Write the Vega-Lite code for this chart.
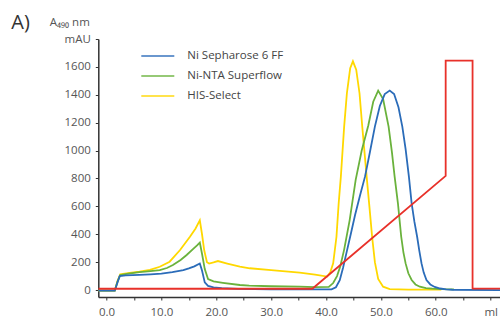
{
  "$schema": "https://vega.github.io/schema/vega-lite/v6.json",
  "width": 401.7,
  "height": 258,
  "autosize": {"type": "none"},
  "padding": {"left": 98.3, "top": 39, "right": 0, "bottom": 22},
  "background": "white",
  "title": {"text": "A)", "anchor": "start", "frame": "group", "fontSize": 20, "fontWeight": "normal", "color": "#333333", "font": "Open Sans", "dx": -87, "dy": 33, "offset": 0, "baseline": "alphabetic"},
  "config": {
    "view": {"stroke": null},
    "font": "Open Sans"
  },
  "datasets": {
    "curves": [
      {"s": "HIS-Select", "ml": -1.5, "mAU": -5}, {"s": "HIS-Select", "ml": 1.5, "mAU": -5}, {"s": "HIS-Select", "ml": 2.0, "mAU": 65}, {"s": "HIS-Select", "ml": 2.5, "mAU": 112}, {"s": "HIS-Select", "ml": 4.2, "mAU": 122}, {"s": "HIS-Select", "ml": 6, "mAU": 132}, {"s": "HIS-Select", "ml": 7.9, "mAU": 145}, {"s": "HIS-Select", "ml": 9.7, "mAU": 167}, {"s": "HIS-Select", "ml": 11.5, "mAU": 203}, {"s": "HIS-Select", "ml": 13.4, "mAU": 287}, {"s": "HIS-Select", "ml": 15.2, "mAU": 382}, {"s": "HIS-Select", "ml": 16.2, "mAU": 440}, {"s": "HIS-Select", "ml": 17, "mAU": 500}, {"s": "HIS-Select", "ml": 17.4, "mAU": 400}, {"s": "HIS-Select", "ml": 17.8, "mAU": 285}, {"s": "HIS-Select", "ml": 18.3, "mAU": 200}, {"s": "HIS-Select", "ml": 18.7, "mAU": 190}, {"s": "HIS-Select", "ml": 19.5, "mAU": 198}, {"s": "HIS-Select", "ml": 20.3, "mAU": 208}, {"s": "HIS-Select", "ml": 22, "mAU": 190}, {"s": "HIS-Select", "ml": 24.3, "mAU": 167}, {"s": "HIS-Select", "ml": 26.1, "mAU": 156}, {"s": "HIS-Select", "ml": 30, "mAU": 143}, {"s": "HIS-Select", "ml": 35.2, "mAU": 125}, {"s": "HIS-Select", "ml": 38, "mAU": 110}, {"s": "HIS-Select", "ml": 40.2, "mAU": 96}, {"s": "HIS-Select", "ml": 40.8, "mAU": 130}, {"s": "HIS-Select", "ml": 41.3, "mAU": 191}, {"s": "HIS-Select", "ml": 41.9, "mAU": 382}, {"s": "HIS-Select", "ml": 42.3, "mAU": 620}, {"s": "HIS-Select", "ml": 42.7, "mAU": 813}, {"s": "HIS-Select", "ml": 43.3, "mAU": 1172}, {"s": "HIS-Select", "ml": 43.8, "mAU": 1411}, {"s": "HIS-Select", "ml": 44.4, "mAU": 1590}, {"s": "HIS-Select", "ml": 44.9, "mAU": 1640}, {"s": "HIS-Select", "ml": 45.5, "mAU": 1580}, {"s": "HIS-Select", "ml": 46.1, "mAU": 1411}, {"s": "HIS-Select", "ml": 46.6, "mAU": 1172}, {"s": "HIS-Select", "ml": 47.4, "mAU": 813}, {"s": "HIS-Select", "ml": 47.9, "mAU": 600}, {"s": "HIS-Select", "ml": 48.4, "mAU": 380}, {"s": "HIS-Select", "ml": 48.9, "mAU": 200}, {"s": "HIS-Select", "ml": 49.5, "mAU": 80}, {"s": "HIS-Select", "ml": 50.4, "mAU": 24}, {"s": "HIS-Select", "ml": 51.6, "mAU": 6}, {"s": "HIS-Select", "ml": 55, "mAU": 3}, {"s": "HIS-Select", "ml": 61, "mAU": 3},
      {"s": "Ni-NTA Superflow", "ml": -1.5, "mAU": -5}, {"s": "Ni-NTA Superflow", "ml": 1.5, "mAU": -5}, {"s": "Ni-NTA Superflow", "ml": 2.0, "mAU": 60}, {"s": "Ni-NTA Superflow", "ml": 2.5, "mAU": 108}, {"s": "Ni-NTA Superflow", "ml": 4, "mAU": 118}, {"s": "Ni-NTA Superflow", "ml": 6, "mAU": 128}, {"s": "Ni-NTA Superflow", "ml": 8, "mAU": 136}, {"s": "Ni-NTA Superflow", "ml": 9.7, "mAU": 143}, {"s": "Ni-NTA Superflow", "ml": 11, "mAU": 158}, {"s": "Ni-NTA Superflow", "ml": 12.1, "mAU": 179}, {"s": "Ni-NTA Superflow", "ml": 13.5, "mAU": 215}, {"s": "Ni-NTA Superflow", "ml": 14.6, "mAU": 251}, {"s": "Ni-NTA Superflow", "ml": 15.8, "mAU": 295}, {"s": "Ni-NTA Superflow", "ml": 16.5, "mAU": 320}, {"s": "Ni-NTA Superflow", "ml": 17, "mAU": 340}, {"s": "Ni-NTA Superflow", "ml": 17.4, "mAU": 260}, {"s": "Ni-NTA Superflow", "ml": 17.9, "mAU": 150}, {"s": "Ni-NTA Superflow", "ml": 18.5, "mAU": 78}, {"s": "Ni-NTA Superflow", "ml": 19.5, "mAU": 62}, {"s": "Ni-NTA Superflow", "ml": 21.2, "mAU": 52}, {"s": "Ni-NTA Superflow", "ml": 24.3, "mAU": 36}, {"s": "Ni-NTA Superflow", "ml": 26, "mAU": 31}, {"s": "Ni-NTA Superflow", "ml": 30, "mAU": 27}, {"s": "Ni-NTA Superflow", "ml": 35.2, "mAU": 24}, {"s": "Ni-NTA Superflow", "ml": 38, "mAU": 21}, {"s": "Ni-NTA Superflow", "ml": 40.5, "mAU": 22}, {"s": "Ni-NTA Superflow", "ml": 41.3, "mAU": 50}, {"s": "Ni-NTA Superflow", "ml": 42, "mAU": 100}, {"s": "Ni-NTA Superflow", "ml": 42.6, "mAU": 170}, {"s": "Ni-NTA Superflow", "ml": 43.3, "mAU": 290}, {"s": "Ni-NTA Superflow", "ml": 44.3, "mAU": 500}, {"s": "Ni-NTA Superflow", "ml": 45.4, "mAU": 790}, {"s": "Ni-NTA Superflow", "ml": 46.5, "mAU": 1000}, {"s": "Ni-NTA Superflow", "ml": 47.7, "mAU": 1180}, {"s": "Ni-NTA Superflow", "ml": 48.6, "mAU": 1350}, {"s": "Ni-NTA Superflow", "ml": 49.5, "mAU": 1430}, {"s": "Ni-NTA Superflow", "ml": 50.4, "mAU": 1370}, {"s": "Ni-NTA Superflow", "ml": 51.4, "mAU": 1172}, {"s": "Ni-NTA Superflow", "ml": 52, "mAU": 990}, {"s": "Ni-NTA Superflow", "ml": 52.5, "mAU": 813}, {"s": "Ni-NTA Superflow", "ml": 53.1, "mAU": 622}, {"s": "Ni-NTA Superflow", "ml": 53.7, "mAU": 382}, {"s": "Ni-NTA Superflow", "ml": 54.1, "mAU": 270}, {"s": "Ni-NTA Superflow", "ml": 54.5, "mAU": 191}, {"s": "Ni-NTA Superflow", "ml": 55, "mAU": 120}, {"s": "Ni-NTA Superflow", "ml": 55.6, "mAU": 72}, {"s": "Ni-NTA Superflow", "ml": 56.3, "mAU": 40}, {"s": "Ni-NTA Superflow", "ml": 57.1, "mAU": 24}, {"s": "Ni-NTA Superflow", "ml": 58.2, "mAU": 14}, {"s": "Ni-NTA Superflow", "ml": 59.4, "mAU": 10}, {"s": "Ni-NTA Superflow", "ml": 61, "mAU": 7}, {"s": "Ni-NTA Superflow", "ml": 63.3, "mAU": 5},
      {"s": "Ni Sepharose 6 FF", "ml": -1.5, "mAU": -5}, {"s": "Ni Sepharose 6 FF", "ml": 1.5, "mAU": -5}, {"s": "Ni Sepharose 6 FF", "ml": 2.0, "mAU": 55}, {"s": "Ni Sepharose 6 FF", "ml": 2.4, "mAU": 100}, {"s": "Ni Sepharose 6 FF", "ml": 3.5, "mAU": 105}, {"s": "Ni Sepharose 6 FF", "ml": 6, "mAU": 108}, {"s": "Ni Sepharose 6 FF", "ml": 8, "mAU": 112}, {"s": "Ni Sepharose 6 FF", "ml": 10, "mAU": 117}, {"s": "Ni Sepharose 6 FF", "ml": 12, "mAU": 128}, {"s": "Ni Sepharose 6 FF", "ml": 14, "mAU": 142}, {"s": "Ni Sepharose 6 FF", "ml": 15, "mAU": 155}, {"s": "Ni Sepharose 6 FF", "ml": 16, "mAU": 170}, {"s": "Ni Sepharose 6 FF", "ml": 17, "mAU": 190}, {"s": "Ni Sepharose 6 FF", "ml": 17.4, "mAU": 140}, {"s": "Ni Sepharose 6 FF", "ml": 17.9, "mAU": 55}, {"s": "Ni Sepharose 6 FF", "ml": 18.5, "mAU": 30}, {"s": "Ni Sepharose 6 FF", "ml": 19.5, "mAU": 19}, {"s": "Ni Sepharose 6 FF", "ml": 21, "mAU": 13}, {"s": "Ni Sepharose 6 FF", "ml": 24, "mAU": 8}, {"s": "Ni Sepharose 6 FF", "ml": 30, "mAU": 5}, {"s": "Ni Sepharose 6 FF", "ml": 41, "mAU": 5}, {"s": "Ni Sepharose 6 FF", "ml": 41.8, "mAU": 20}, {"s": "Ni Sepharose 6 FF", "ml": 42.5, "mAU": 70}, {"s": "Ni Sepharose 6 FF", "ml": 43.1, "mAU": 160}, {"s": "Ni Sepharose 6 FF", "ml": 43.7, "mAU": 263}, {"s": "Ni Sepharose 6 FF", "ml": 44.5, "mAU": 400}, {"s": "Ni Sepharose 6 FF", "ml": 45.3, "mAU": 540}, {"s": "Ni Sepharose 6 FF", "ml": 46.2, "mAU": 680}, {"s": "Ni Sepharose 6 FF", "ml": 47.1, "mAU": 813}, {"s": "Ni Sepharose 6 FF", "ml": 48, "mAU": 990}, {"s": "Ni Sepharose 6 FF", "ml": 48.9, "mAU": 1172}, {"s": "Ni Sepharose 6 FF", "ml": 49.8, "mAU": 1320}, {"s": "Ni Sepharose 6 FF", "ml": 50.7, "mAU": 1405}, {"s": "Ni Sepharose 6 FF", "ml": 51.6, "mAU": 1430}, {"s": "Ni Sepharose 6 FF", "ml": 52.4, "mAU": 1405}, {"s": "Ni Sepharose 6 FF", "ml": 53.2, "mAU": 1310}, {"s": "Ni Sepharose 6 FF", "ml": 53.9, "mAU": 1172}, {"s": "Ni Sepharose 6 FF", "ml": 54.5, "mAU": 1010}, {"s": "Ni Sepharose 6 FF", "ml": 55.1, "mAU": 813}, {"s": "Ni Sepharose 6 FF", "ml": 55.6, "mAU": 622}, {"s": "Ni Sepharose 6 FF", "ml": 56.1, "mAU": 490}, {"s": "Ni Sepharose 6 FF", "ml": 56.6, "mAU": 382}, {"s": "Ni Sepharose 6 FF", "ml": 57.0, "mAU": 280}, {"s": "Ni Sepharose 6 FF", "ml": 57.4, "mAU": 191}, {"s": "Ni Sepharose 6 FF", "ml": 57.8, "mAU": 125}, {"s": "Ni Sepharose 6 FF", "ml": 58.3, "mAU": 72}, {"s": "Ni Sepharose 6 FF", "ml": 59, "mAU": 40}, {"s": "Ni Sepharose 6 FF", "ml": 59.8, "mAU": 22}, {"s": "Ni Sepharose 6 FF", "ml": 60.8, "mAU": 11}, {"s": "Ni Sepharose 6 FF", "ml": 61.9, "mAU": 5}, {"s": "Ni Sepharose 6 FF", "ml": 63, "mAU": 2}, {"s": "Ni Sepharose 6 FF", "ml": 71.7, "mAU": 0}
    ],
    "gradient": [
      {"i": 1, "ml": -1.5, "mAU": 9}, {"i": 2, "ml": 37.5, "mAU": 9}, {"i": 3, "ml": 61.8, "mAU": 818}, {"i": 4, "ml": 61.8, "mAU": 1645}, {"i": 5, "ml": 66.7, "mAU": 1645}, {"i": 6, "ml": 66.7, "mAU": 10}, {"i": 7, "ml": 71.7, "mAU": 10}
    ]
  },
  "encoding": {
    "x": {
      "field": "ml", "type": "quantitative",
      "scale": {"domain": [-1.5, 71.7], "nice": false, "zero": false},
      "axis": {
        "title": null, "grid": false,
        "values": [0, 5, 10, 15, 20, 25, 30, 35, 40, 45, 50, 55, 60, 65, 70],
        "labelExpr": "datum.value % 10 != 0 ? '' : (datum.value == 70 ? 'ml' : format(datum.value, '.1f'))",
        "domainColor": "#333333", "domainWidth": 1.5,
        "tickColor": "#333333", "tickSize": 3, "tickWidth": 1,
        "labelColor": "#555555", "labelFontSize": 11.5, "labelPadding": 6,
        "labelBound": false, "labelOverlap": false, "labelFlush": false
      }
    },
    "y": {
      "field": "mAU", "type": "quantitative",
      "scale": {"domain": [-50, 1800], "nice": false, "zero": false},
      "axis": {
        "grid": false,
        "values": [0, 200, 400, 600, 800, 1000, 1200, 1400, 1600, 1800],
        "labelExpr": "datum.value == 1800 ? 'mAU' : format(datum.value, 'd')",
        "domainColor": "#333333", "domainWidth": 1.5,
        "tickColor": "#333333", "tickSize": 3, "tickWidth": 1,
        "labelColor": "#555555", "labelFontSize": 11.5, "labelPadding": 5,
        "labelBound": false, "labelOverlap": false, "labelFlush": false,
        "title": "A₄₉₀ nm", "titleAngle": 0, "titleAlign": "right", "titleBaseline": "alphabetic",
        "titleX": -9, "titleY": -14, "titleFontSize": 11.5, "titleFontWeight": "normal", "titleColor": "#555555"
      }
    }
  },
  "layer": [
    {
      "data": {"name": "curves"},
      "mark": {"type": "line", "strokeWidth": 1.8, "clip": true},
      "encoding": {
        "color": {
          "field": "s", "type": "nominal",
          "scale": {"domain": ["Ni Sepharose 6 FF", "Ni-NTA Superflow", "HIS-Select"], "range": ["#2b6cb9", "#6ab23c", "#ffd800"]},
          "legend": {
            "title": null, "orient": "none", "legendX": 42, "legendY": 10,
            "symbolType": "stroke", "symbolSize": 1089, "symbolStrokeWidth": 2, "symbolOpacity": 0.7,
            "labelFontSize": 11.5, "labelColor": "#444444", "labelOffset": 12,
            "clipHeight": 14, "rowPadding": 6, "padding": 0
          }
        }
      }
    },
    {
      "data": {"name": "gradient"},
      "mark": {"type": "line", "strokeWidth": 1.8, "color": "#e8312a", "clip": true},
      "encoding": {
        "order": {"field": "i", "type": "quantitative"}
      }
    }
  ]
}
